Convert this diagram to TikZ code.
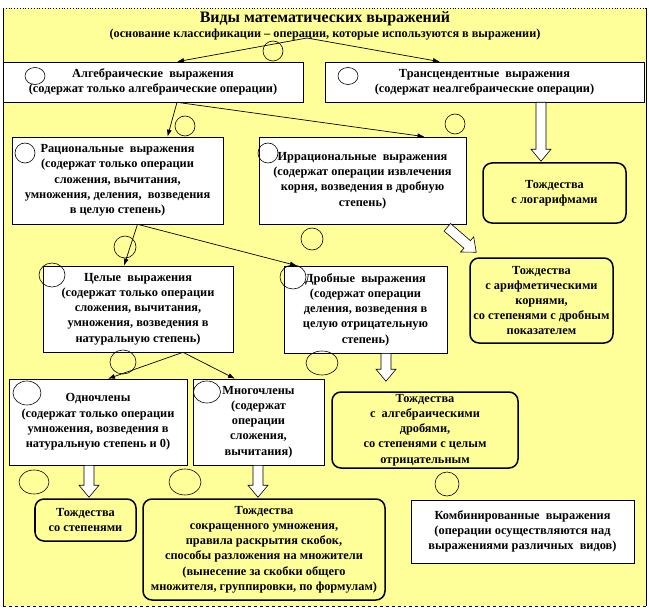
\documentclass[tikz,border=0pt]{standalone}
\usepackage{fontspec}
\setmainfont{Liberation Serif}
\newfontfamily\schemefont{Liberation Serif}
\usetikzlibrary{calc, arrows.meta, positioning}
\definecolor{pale}{RGB}{255,255,153}

% hollow block arrow from #1 to #2
\newcommand{\fatarrow}[2]{%
	\coordinate (fs) at (#1);
	\coordinate (fe) at (#2);
	\coordinate (fh) at ($(fe)!12bp!(fs)$);
	\draw[fill=white, line width=0.6bp] ($(fs)!5bp!90:(fe)$) -- ($(fh)!5bp!-90:(fs)$) -- ($(fh)!10bp!-90:(fs)$) -- (fe) -- ($(fh)!10bp!90:(fs)$) -- ($(fh)!5bp!90:(fs)$) -- ($(fs)!5bp!-90:(fe)$) -- cycle;
}

\begin{document}
\begin{tikzpicture}[x=1bp, y=-1bp,
	txt/.style={font=\schemefont\bfseries\fontsize{12.4}{15.3}\selectfont, align=center, inner sep=0pt},
	box/.style={txt, draw, fill=white, line width=0.6bp},
	tbox/.style={txt, draw, fill=pale, rounded corners=9bp, line width=1.5bp},
	conn/.style={-{Latex[length=7bp, width=5bp]}, line width=0.7bp}]
	\useasboundingbox (0,0) rectangle (649,614);

	% background and frame
	\fill[pale] (3,8) rectangle (646,606);
	\draw[line width=0.6bp] (3,8) -- (3,606);
	\draw[line width=0.6bp] (646,8) -- (646,606);
	\draw[dotted, line width=0.8bp] (3,8) -- (646,8);
	\draw[dashed, line width=0.8bp] (3,606) -- (646,606);

	\node[txt] (title) at (325,26) {{\fontsize{16}{17}\selectfont Виды математических выражений}\\
		{\fontsize{12.3}{14}\selectfont (основание классификации – операции, которые используются в выражении)}};
	\coordinate (split) at (307,38);

	\node[box, minimum width=300bp, minimum height=40bp] (alg) at (153,82) {Алгебраические~~выражения\\(содержат только алгебраические операции)};
	\node[box, minimum width=319bp, minimum height=40bp] (trans) at (484.5,82) {Трансцендентные~~выражения\\(содержат неалгебраические операции)};

	\node[box, minimum width=211bp, minimum height=87bp] (rat) at (117.5,180.5) {Рациональные~~выражения\\(содержат только операции\\сложения, вычитания,\\умножения, деления,~~возведения\\в целую степень)};
	\node[box, minimum width=207bp, minimum height=87bp] (irr) at (362.5,180.5) {Иррациональные~~выражения\\(содержат операции извлечения\\корня, возведения в дробную\\степень)};
	\node[tbox, minimum width=143bp, minimum height=60bp] (logt) at (554.5,193) {Тождества\\с логарифмами};

	\node[box, minimum width=190bp, minimum height=86bp] (cel) at (138,309) {Целые~~выражения\\(содержат только операции\\сложения, вычитания,\\умножения, возведения в\\натуральную степень)};
	\node[box, minimum width=163bp, minimum height=87bp] (drob) at (365.5,309.5) {Дробные~~выражения\\(содержат операции\\деления, возведения в\\целую отрицательную\\степень)};
	\node[tbox, minimum width=143bp, minimum height=85bp] (kort) at (541.5,300.5) {Тождества\\с арифметическими\\корнями,\\со степенями с дробным\\показателем};

	\node[box, minimum width=178bp, minimum height=86bp] (odno) at (98,422) {Одночлены\\(содержат только операции\\умножения, возведения в\\натуральную степень и 0)};
	\node[box, minimum width=131bp, minimum height=86bp] (mnogo) at (258.5,422) {Многочлены\\(содержат\\операции\\сложения,\\вычитания)};
	\node[tbox, minimum width=186bp, minimum height=76bp] (drobt) at (425,430) {Тождества\\с~~алгебраическими\\дробями,\\со степенями с целым\\отрицательным};

	\node[tbox, minimum width=101bp, minimum height=42bp] (stept) at (85.5,520) {Тождества\\со степенями};
	\node[tbox, minimum width=242bp, minimum height=101bp] (sokrt) at (264,549.5) {Тождества\\сокращенного умножения,\\правила раскрытия скобок,\\способы разложения на множители\\(вынесение за скобки общего\\множителя, группировки, по формулам)};
	\node[box, minimum width=223bp, minimum height=63bp] (komb) at (522.5,531.5) {Комбинированные~~выражения\\(операции осуществляются над\\выражениями различных~~видов)};

	% thin arrows
	\draw[conn] (split) -- ([xshift=24bp]alg.north);
	\draw[conn] (split) -- ([xshift=-44.5bp]trans.north);
	\draw[conn] ([xshift=24bp]alg.south) -- ([xshift=50bp]rat.north);
	\draw[conn] ([xshift=24bp]alg.south) -- ([xshift=62bp]irr.north);
	\draw[conn] ([xshift=20bp]rat.south) -- ([xshift=-14bp]cel.north);
	\draw[conn] ([xshift=20bp]rat.south) -- ([xshift=-68.5bp]drob.north);
	\draw[conn] ([xshift=45bp]cel.south) -- ([xshift=10bp]odno.north);
	\draw[conn] ([xshift=45bp]cel.south) -- ([xshift=-23.5bp]mnogo.north);

	% hollow arrows
	\fatarrow{[xshift=56.5bp]trans.south}{[shift={(-13.5bp,1bp)}]logt.north}
	\fatarrow{[shift={(-19bp,-3bp)}]irr.south east}{[shift={(7bp,5bp)}]kort.north west}
	\fatarrow{[xshift=20.5bp]drob.south}{[shift={(-39bp,10bp)}]drobt.north}
	\fatarrow{[xshift=-9bp]odno.south}{[shift={(3.5bp,1bp)}]stept.north}
	\fatarrow{[xshift=-0.5bp]mnogo.south}{[shift={(-6bp,1bp)}]sokrt.north}

	% empty circles
	\foreach \cx/\cy/\rx/\ry in {273/51/10/10, 35/76/10/8.5, 348/76/10/8.5, 185/126/10/10, 455/124/10/10,
		25/153/10/10, 268/153/10/10, 125/247/11/11, 312/239/11/11, 52/275/13/12, 293/277/13/12,
		123/362/13/12, 322/363/16/12, 27/393/14/12, 207/392/13.5/11, 34/482/15/12, 185/482/16/13, 447/484/12/12}
		\draw[line width=0.6bp] (\cx,\cy) ellipse [x radius=\rx bp, y radius=\ry bp];
\end{tikzpicture}
\end{document}
